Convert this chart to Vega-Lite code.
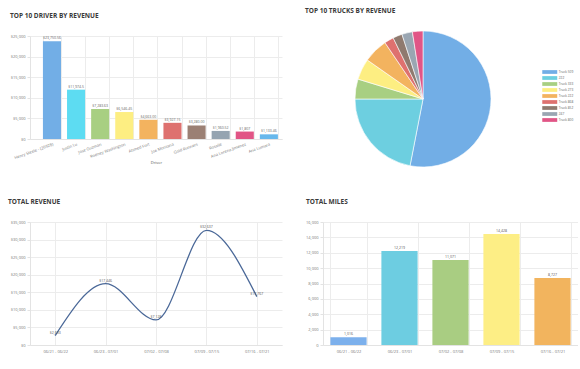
{
  "$schema": "https://vega.github.io/schema/vega-lite/v6.json",
  "background": "white",
  "padding": {"left": 8, "top": 8, "right": 0, "bottom": 0},
  "columns": 2,
  "bounds": "flush",
  "spacing": {"row": 60, "column": 41},
  "resolve": {"scale": {"color": "independent"}, "legend": {"color": "independent"}},
  "config": {
    "font": "Open Sans",
    "view": {"stroke": null},
    "axis": {"labelFontSize": 4, "labelColor": "#777", "gridColor": "#ececec", "domainColor": "#e3e3e3", "tickColor": "#e3e3e3", "tickSize": 3, "labelPadding": 2, "titleFontSize": 4, "titleColor": "#555", "titleFontWeight": "normal"},
    "title": {"fontSize": 6.5, "fontWeight": "bold", "color": "#3a3a3a", "anchor": "start", "frame": "group", "offset": 15}
  },
  "datasets": {
    "drivers": [
      {"driver": "Henry Steele - (26928)", "revenue": 23750.56, "label": "$23,750.56"},
      {"driver": "Justin Lu", "revenue": 11974.5, "label": "$11,974.5"},
      {"driver": "Jose Guzman", "revenue": 7283.63, "label": "$7,283.63"},
      {"driver": "Rodney Washington", "revenue": 6546.45, "label": "$6,546.45"},
      {"driver": "Ahmed Fort", "revenue": 4663.0, "label": "$4,663.00"},
      {"driver": "Joe Montana", "revenue": 3927.15, "label": "$3,927.15"},
      {"driver": "Gold Runners", "revenue": 3280.0, "label": "$3,280.00"},
      {"driver": "Rosalie", "revenue": 1960.52, "label": "$1,960.52"},
      {"driver": "Ana Lorena Jimenez", "revenue": 1807, "label": "$1,807"},
      {"driver": "Ana Lumara", "revenue": 1133.46, "label": "$1,133.46"}
    ],
    "trucks": [
      {"truck": "Truck 509", "value": 191, "order": 1},
      {"truck": "222", "value": 79, "order": 2},
      {"truck": "Truck 333", "value": 17, "order": 3},
      {"truck": "Truck 273", "value": 18, "order": 4},
      {"truck": "Truck 222", "value": 21, "order": 5},
      {"truck": "Truck 868", "value": 8, "order": 6},
      {"truck": "Truck 852", "value": 8, "order": 7},
      {"truck": "247", "value": 9, "order": 8},
      {"truck": "Truck 800", "value": 9, "order": 9}
    ],
    "revenue": [
      {"week": "06/21 - 06/22", "revenue": 2693, "label": "$2,693"},
      {"week": "06/23 - 07/01", "revenue": 17446, "label": "$17,446"},
      {"week": "07/02 - 07/08", "revenue": 7128, "label": "$7,128"},
      {"week": "07/09 - 07/15", "revenue": 32637, "label": "$32,637"},
      {"week": "07/16 - 07/21", "revenue": 13767, "label": "$13,767"}
    ],
    "miles": [
      {"week": "06/21 - 06/22", "miles": 1016},
      {"week": "06/23 - 07/01", "miles": 12219},
      {"week": "07/02 - 07/08", "miles": 11071},
      {"week": "07/09 - 07/15", "miles": 14428},
      {"week": "07/16 - 07/21", "miles": 8727}
    ]
  },
  "concat": [
    {
      "title": {"text": "TOP 10 DRIVER BY REVENUE", "dx": -20},
      "width": 252,
      "height": 103,
      "data": {"name": "drivers"},
      "encoding": {
        "x": {"field": "driver", "type": "nominal", "sort": null,
          "scale": {"paddingInner": 0.25, "paddingOuter": 0.353, "align": 0.76},
          "axis": {"title": "Driver", "labelAngle": -20, "labelAlign": "right", "labelBaseline": "top", "grid": true, "tickBand": "extent", "ticks": false, "labelPadding": 3, "titlePadding": 1}},
        "y": {"field": "revenue", "type": "quantitative", "scale": {"domain": [0, 25000]},
          "axis": {"values": [0, 5000, 10000, 15000, 20000, 25000], "format": "$,.0f", "title": null, "grid": true}}
      },
      "layer": [
        {"mark": {"type": "bar"},
         "encoding": {"color": {"field": "driver", "type": "nominal", "sort": null, "legend": null,
           "scale": {"range": ["#72aee6", "#5ddcf2", "#a8cf82", "#fdee82", "#f3b35f", "#de716f", "#9b8074", "#95a4b1", "#e15586", "#67b8ec"]}}}},
        {"mark": {"type": "text", "dy": -3, "fontSize": 3.5, "color": "#666"},
         "encoding": {"text": {"field": "label"}}}
      ]
    },
    {
      "title": {"text": "TOP 10 TRUCKS BY REVENUE", "dx": -18},
      "width": 200,
      "height": 126,
      "data": {"name": "trucks"},
      "mark": {"type": "arc", "outerRadius": 68, "stroke": "white", "strokeWidth": 0.6},
      "encoding": {
        "theta": {"field": "value", "type": "quantitative", "stack": true},
        "order": {"field": "order", "type": "quantitative"},
        "color": {"field": "truck", "type": "nominal",
          "scale": {"domain": ["Truck 509", "222", "Truck 333", "Truck 273", "Truck 222", "Truck 868", "Truck 852", "247", "Truck 800"],
            "range": ["#72aee6", "#6dcfe0", "#a8cf82", "#fdee82", "#f3b35f", "#de716f", "#8f7a6f", "#9aa6b2", "#e15586"]},
          "legend": {"orient": "none", "legendX": 222.75, "legendY": 32, "title": null,
            "symbolType": "M-2,-0.5H2V0.5H-2Z", "symbolSize": 56, "symbolStrokeWidth": 0,
            "labelFontSize": 3.2, "labelColor": "#666", "rowPadding": 0, "padding": 0, "labelOffset": 5}}
      }
    },
    {
      "title": {"text": "TOTAL REVENUE", "dx": -22},
      "width": 252,
      "height": 123,
      "data": {"name": "revenue"},
      "encoding": {
        "x": {"field": "week", "type": "ordinal", "sort": null, "scale": {"type": "point", "padding": 0.5},
          "axis": {"title": null, "labelAngle": 0, "grid": true, "ticks": false, "labelPadding": 4}},
        "y": {"field": "revenue", "type": "quantitative", "scale": {"domain": [0, 35000]},
          "axis": {"values": [0, 5000, 10000, 15000, 20000, 25000, 30000, 35000], "format": "$,.0f", "title": null, "grid": true}}
      },
      "layer": [
        {"mark": {"type": "line", "interpolate": "monotone", "color": "#4a6898", "strokeWidth": 1.3}},
        {"mark": {"type": "text", "dy": -3, "fontSize": 3.5, "color": "#555"},
         "encoding": {"text": {"field": "label"}}}
      ]
    },
    {
      "title": {"text": "TOTAL MILES", "dx": -17},
      "width": 255,
      "height": 123,
      "data": {"name": "miles"},
      "encoding": {
        "x": {"field": "week", "type": "nominal", "sort": null,
          "scale": {"paddingInner": 0.29, "paddingOuter": 0.145},
          "axis": {"title": null, "labelAngle": 0, "grid": true, "tickBand": "extent", "ticks": false, "labelPadding": 4}},
        "y": {"field": "miles", "type": "quantitative", "scale": {"domain": [0, 16000]},
          "axis": {"values": [0, 2000, 4000, 6000, 8000, 10000, 12000, 14000, 16000], "format": ",.0f", "title": null, "grid": true}}
      },
      "layer": [
        {"mark": {"type": "bar"},
         "encoding": {"color": {"field": "week", "type": "nominal", "sort": null, "legend": null,
           "scale": {"range": ["#7cb0ec", "#6dcde1", "#a9cd82", "#fdee85", "#f2b45e"]}}}},
        {"mark": {"type": "text", "dy": -3, "fontSize": 3.5, "color": "#555"},
         "encoding": {"text": {"field": "miles", "format": ",.0f"}}}
      ]
    }
  ]
}
